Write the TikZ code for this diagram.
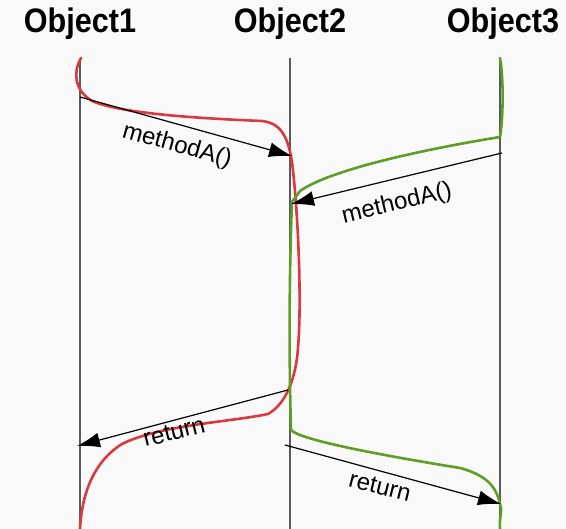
\documentclass[tikz,border=0pt]{standalone}
\usepackage{fontspec}
\setmainfont{Liberation Sans}
\usetikzlibrary{arrows.meta}
\definecolor{bgc}{HTML}{F9F9F9}
\definecolor{redc}{HTML}{D93A3F}
\definecolor{greenc}{HTML}{5E9E24}
\definecolor{lifec}{HTML}{5A5A5A}
\tikzset{
  title/.style={font=\bfseries\fontsize{34}{38}\selectfont, xscale=0.9, anchor=base, inner sep=0pt},
  lifeline/.style={draw=lifec, line width=1.4pt},
  msg/.style={draw=black, line width=1.2pt, -{Latex[length=23pt,width=15pt]}},
  msglabel/.style={font=\fontsize{24}{28}\selectfont, inner sep=0pt},
  redflow/.style={draw=redc, line width=2.6pt, line cap=round, line join=round},
  greenflow/.style={draw=greenc, line width=2.6pt, line cap=round, line join=round}
}
\begin{document}
\begin{tikzpicture}[x=1pt,y=-1pt]
\fill[bgc] (0,0) rectangle (566,529);
\useasboundingbox (0,0) rectangle (566,529);

% titles
\node[title] (o1) at (80,33) {Object1};
\node[title] (o2) at (290,33) {Object2};
\node[title] (o3) at (503,33) {Object3};

% lifeline ends
\coordinate (l1t) at (80,60);  \coordinate (l1b) at (80,529);
\coordinate (l2t) at (290,58); \coordinate (l2b) at (290,529);
\coordinate (l3t) at (500,58); \coordinate (l3b) at (500,529);
\draw[lifeline] (l1t) -- (l1b);
\draw[lifeline] (l2t) -- (l2b);
\draw[lifeline] (l3t) -- (l3b);

% message end points
\coordinate (a1s) at (80,97);   \coordinate (a1e) at (292,156);
\coordinate (a2s) at (502,153); \coordinate (a2e) at (291,204);
\coordinate (a3s) at (288,390); \coordinate (a3e) at (77,446);
\coordinate (a4s) at (285,445); \coordinate (a4e) at (501,504);

% red flow
\draw[redflow] (81,58) .. controls (73,72) and (74,90) .. (92,101)
  .. controls (120,113) and (190,118) .. (262,121)
  .. controls (281,123) and (288,137) .. (292,162)
  .. controls (298,210) and (302,300) .. (298,348)
  .. controls (296,378) and (286,404) .. (268,414)
  .. controls (230,422) and (160,425) .. (122,444)
  .. controls (96,460) and (82,490) .. (80,529);

% green flow
\draw[greenflow] (500,58) .. controls (504,80) and (503,120) .. (500,137)
  .. controls (420,150) and (330,170) .. (300,191)
  -- (292,202)
  .. controls (289,280) and (289,360) .. (291,430)
  .. controls (300,440) and (380,455) .. (460,468)
  .. controls (490,476) and (497,490) .. (500,504)
  .. controls (503,511) and (499,516) .. (500,529);

% messages
\draw[msg] (a1s) -- (a1e);
\draw[msg] (a2s) -- (a2e);
\draw[msg] (a3s) -- (a3e);
\draw[msg] (a4s) -- (a4e);

% labels
\node[msglabel, rotate=-15.5] (t1) at (177,146) {methodA()};
\node[msglabel, rotate=13.5] (t2) at (397,204) {methodA()};
\node[msglabel, rotate=14] (t3) at (174,432) {return};
\node[msglabel, rotate=-14] (t4) at (380,487) {return};
\end{tikzpicture}
\end{document}
